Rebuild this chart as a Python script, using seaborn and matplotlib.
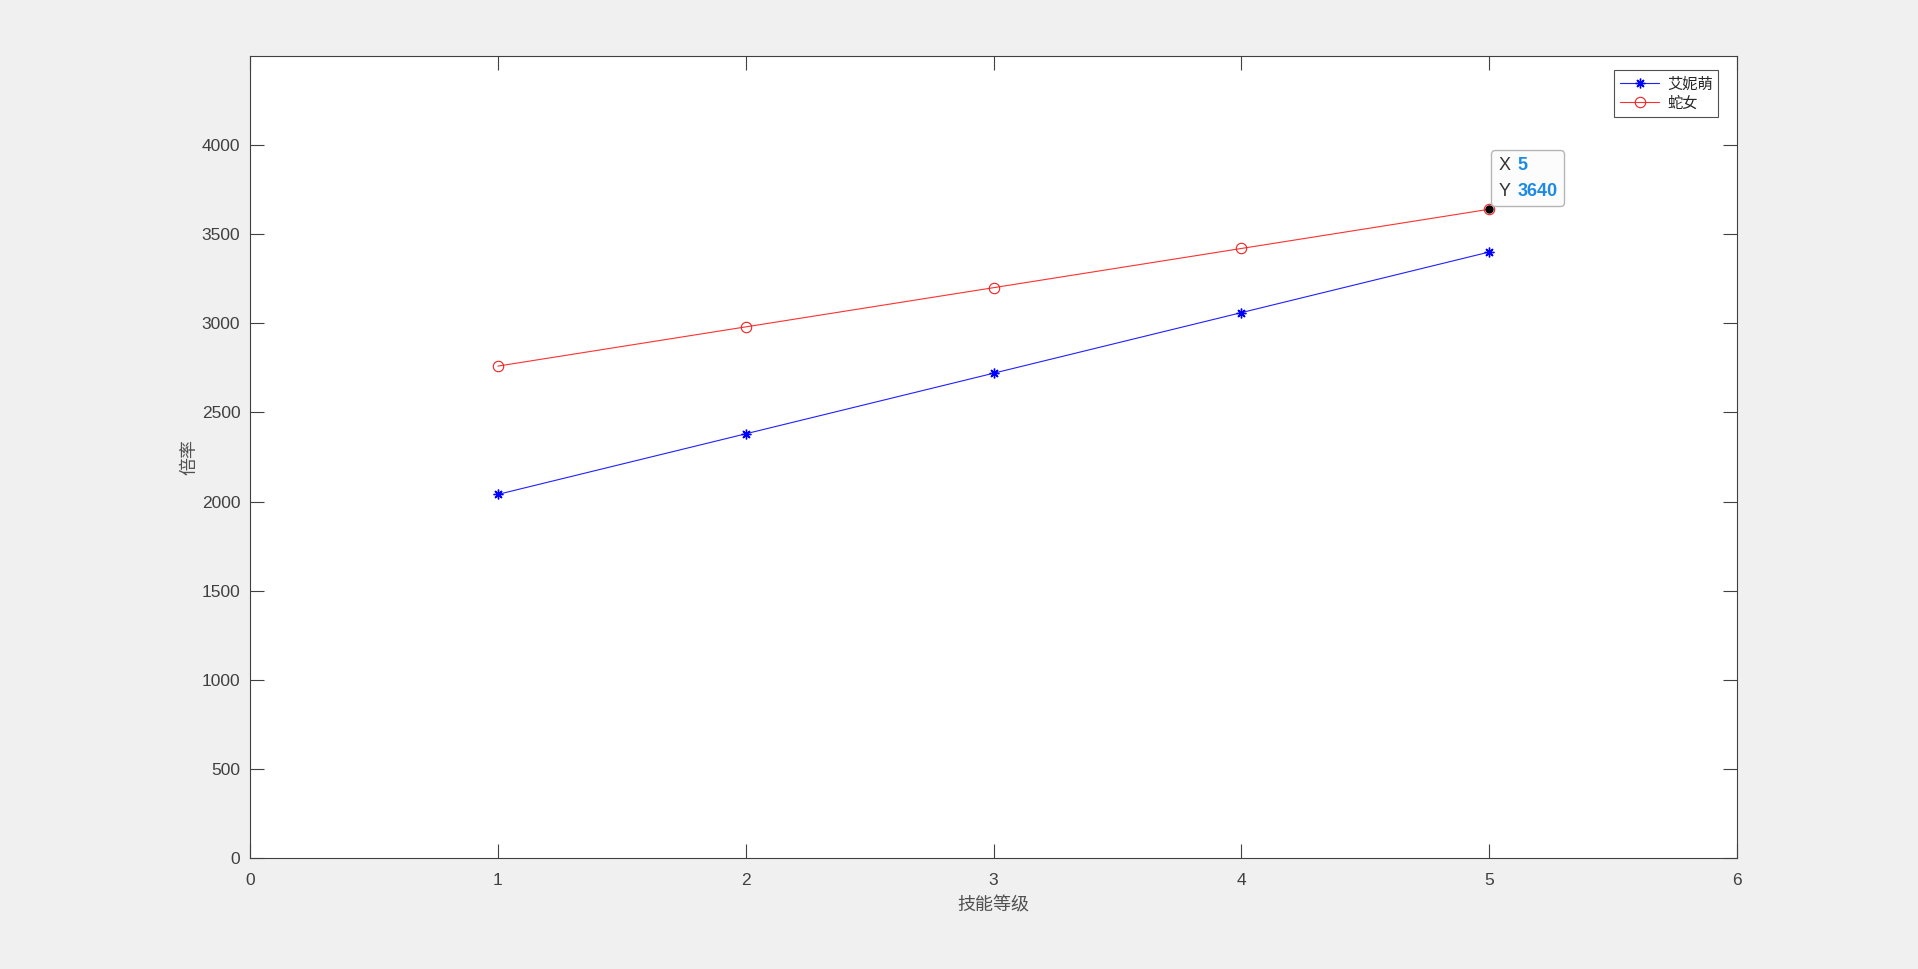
import numpy as np
import pandas as pd
import matplotlib
matplotlib.use('Agg')
import matplotlib.pyplot as plt
from matplotlib.offsetbox import TextArea, HPacker, VPacker, AnnotationBbox
import seaborn as sns

# data
levels = [1, 2, 3, 4, 5]
aini_meng = [2040, 2380, 2720, 3060, 3400]
she_nv = [2760, 2980, 3200, 3420, 3640]
series_names = ['艾妮萌', '蛇女']
tip_x, tip_y = 5, 3640

sns.set_style('ticks')
plt.rcParams['font.family'] = ['Liberation Sans', 'Noto Sans CJK SC', 'DejaVu Sans']

df = pd.DataFrame({
    'level': levels * 2,
    'value': aini_meng + she_nv,
    'hero': [series_names[0]] * 5 + [series_names[1]] * 5,
})

fig = plt.figure(figsize=(19.18, 9.69), dpi=100, facecolor='#f0f0f0')
ax = fig.add_axes([250 / 1918, 1 - 858 / 969, (1737 - 250) / 1918, (858 - 56) / 969])
ax.set_facecolor('white')

sns.lineplot(data=df[df['hero'] == series_names[0]], x='level', y='value',
             color='#2020ff', marker=(8, 2, 0), markersize=7, markeredgecolor='#0000ff',
             markeredgewidth=1.0, linewidth=0.8, label=series_names[0], ax=ax)
sns.lineplot(data=df[df['hero'] == series_names[1]], x='level', y='value',
             color='#ff3030', marker='o', markersize=7.5, markerfacecolor='none',
             markeredgecolor='#ee2020', markeredgewidth=0.8,
             linewidth=0.8, label=series_names[1], ax=ax)

ax.set_xlim(0, 6)
ax.set_ylim(0, 4500)
ax.set_xticks(range(0, 7))
ax.set_yticks(range(0, 4001, 500))
ax.tick_params(direction='in', length=10, width=0.8, top=True, right=True,
               labelsize=12.5, colors='#404040', pad=7)
ax.tick_params(axis='x', pad=11)
for s in ax.spines.values():
    s.set_color('#404040')
    s.set_linewidth(0.8)

cjk = ['Noto Sans CJK SC', 'DejaVu Sans']
ax.set_xlabel('技能等级', fontsize=13, color='#505050', family=cjk, labelpad=6)
ax.set_ylabel('倍率', fontsize=13, color='#505050', family=cjk, labelpad=2)

leg = ax.legend(loc='upper right', fancybox=False, frameon=True,
                edgecolor='#262626', borderpad=0.35, handlelength=2.6,
                handletextpad=0.5, labelspacing=0.15,
                bbox_to_anchor=(0.9925, 0.992),
                prop={'family': cjk, 'size': 11})
leg.get_frame().set_linewidth(0.8)

# data tip
lab_style = dict(fontsize=13, color='#333333')
val_style = dict(fontsize=13, color='#1a8ae6', fontweight='bold')
rows = [
    HPacker(children=[TextArea('X', textprops=lab_style),
                      TextArea(str(tip_x), textprops=val_style)], pad=0, sep=5),
    HPacker(children=[TextArea('Y', textprops=lab_style),
                      TextArea(str(tip_y), textprops=val_style)], pad=0, sep=5),
]
tip_box = VPacker(children=rows, pad=0, sep=6, align='left')
ab = AnnotationBbox(tip_box, (tip_x, tip_y), xybox=(6.5, 7), xycoords='data',
                    boxcoords='offset points', box_alignment=(0, 0), pad=0.5,
                    bboxprops=dict(boxstyle='round,pad=0.5,rounding_size=0.3',
                                   fc='#fcfcfc', ec='#b5b5b5', lw=1),
                    zorder=6)
ax.add_artist(ab)
ax.plot([tip_x], [tip_y], 'o', color='black', markersize=5, zorder=7)

fig.savefig('out.png', dpi=100, facecolor=fig.get_facecolor())
